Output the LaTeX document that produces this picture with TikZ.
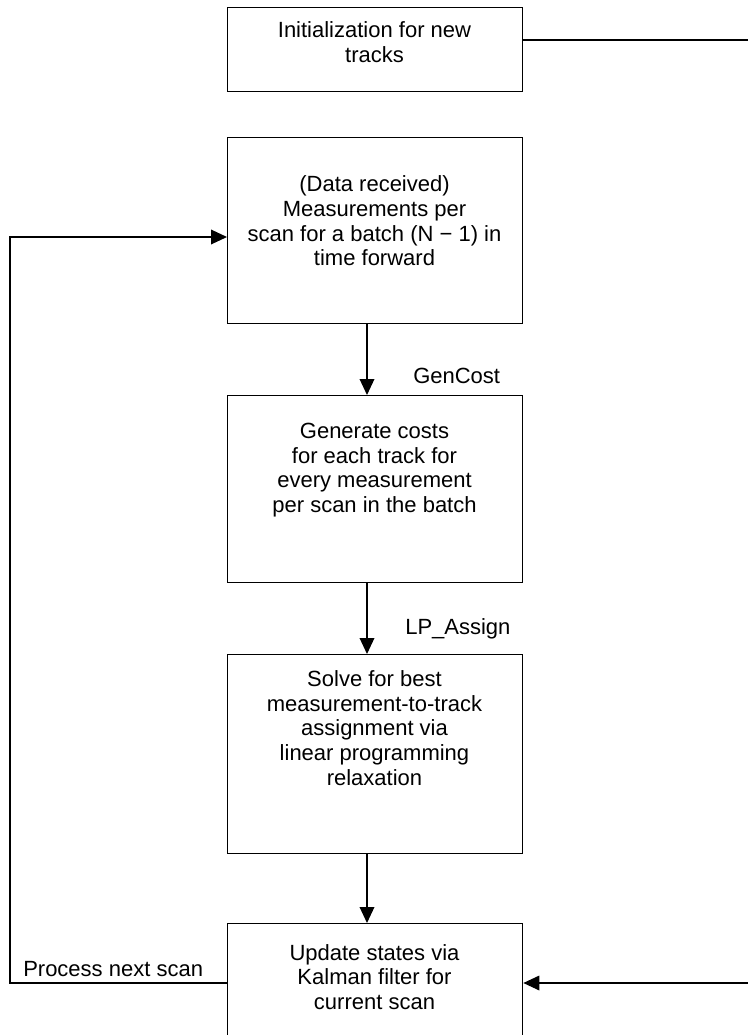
\documentclass[tikz,border=0pt]{standalone}
\usepackage{fontspec}
\setmainfont{Liberation Sans}
\usetikzlibrary{arrows.meta}
\tikzset{
	blk/.style={draw, line width=1pt, minimum width=221.25pt, anchor=north west, inner sep=0pt},
	txt/.style={align=center, inner sep=0pt, font=\fontsize{16.5pt}{18.5pt}\selectfont},
	lbl/.style={anchor=base west, inner sep=0pt, font=\fontsize{16.5pt}{18.5pt}\selectfont},
	arr/.style={line width=1pt, -{Triangle[length=12pt,width=11pt]}}
}
\begin{document}
\begin{tikzpicture}[x=0.75pt,y=-0.75pt]
	\useasboundingbox (0,0) rectangle (748,1035);
		% blocks
			\node[blk, minimum height=63pt]     (init)   at (227,7)   {};
			\node[blk, minimum height=139.5pt]  (scan)   at (227,137) {};
			\node[blk, minimum height=140.25pt] (cost)   at (227,395) {};
			\node[blk, minimum height=149.25pt] (assign) at (227,654) {};
			\node[blk, minimum height=87.75pt]  (update) at (227,923) {};
		% texts in the blocks
			\node[txt] (initT)   at (374.5,42)  {Initialization for new\\tracks};
			\node[txt] (scanT)   at (374.5,221) {(Data received)\\Measurements per\\scan for a batch (N − 1) in\\time forward};
			\node[txt] (costT)   at (374.5,470) {Generate costs\\for each track for\\every measurement\\per scan in the batch};
			\node[txt] (assignT) at (374.5,728) {Solve for best\\measurement-to-track\\assignment via\\linear programming\\relaxation};
			\node[txt] (updateT) at (374.5,977) {Update states via\\Kalman filter for\\current scan};
		% flow down
			\coordinate (ax) at (367,0);
			\foreach \a/\b in {scan/cost,cost/assign,assign/update}{
				\draw[arr] (\a.south -| ax) -- (\b.north -| ax);
				}
			\node[lbl] (gencost)  at (413,383) {GenCost};
			\node[lbl] (lpassign) at (405,634) {LP\_Assign};
		% next scan
			\coordinate (lft) at (10,983);
			\coordinate (inb) at (0,237);
			\draw[arr] (update.west |- lft) -- (lft) |- (scan.west |- inb);
			\node[lbl] (next) at (23,976) {Process next scan};
		% new tracks
			\coordinate (rgt) at (749,40);
			\draw[arr] (init.east |- rgt) -- (rgt) |- (update.east |- lft);
	\end{tikzpicture}
\end{document}
